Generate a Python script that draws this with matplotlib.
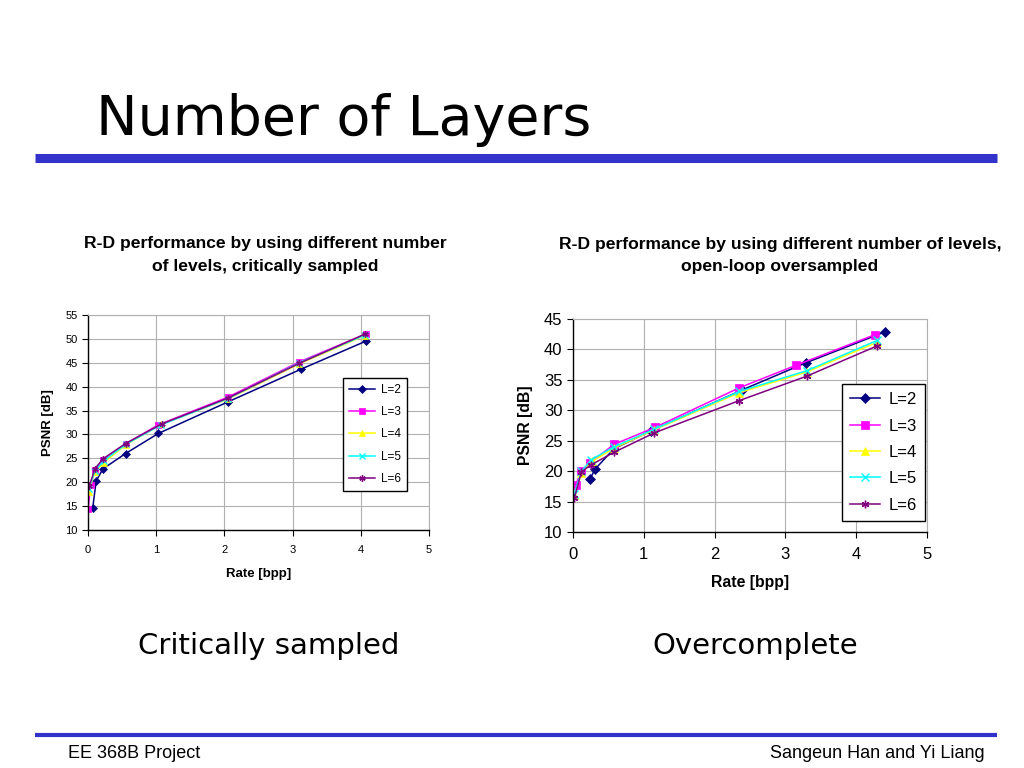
import matplotlib.pyplot as plt
from matplotlib.lines import Line2D

# ---- data ----
labels = ['L=2', 'L=3', 'L=4', 'L=5', 'L=6']

# critically sampled
crit_rate = {
    'L=2': [0.07, 0.12, 0.22, 0.55, 1.03, 2.05, 3.13, 4.07],
    'L=3': [0.00, 0.04, 0.10, 0.22, 0.55, 1.03, 2.05, 3.10, 4.07],
    'L=4': [0.01, 0.10, 0.23, 0.55, 1.07, 2.05, 3.10, 4.06],
    'L=5': [0.01, 0.10, 0.23, 0.55, 1.07, 2.05, 3.10, 4.06],
    'L=6': [0.02, 0.10, 0.22, 0.55, 1.08, 2.05, 3.10, 4.06],
}
crit_psnr = {
    'L=2': [14.7, 20.3, 22.8, 26.0, 30.2, 36.8, 43.7, 49.5],
    'L=3': [14.3, 19.4, 22.6, 24.6, 28.0, 32.0, 37.8, 45.2, 51.0],
    'L=4': [18.0, 22.2, 24.1, 27.8, 32.1, 37.4, 44.8, 50.7],
    'L=5': [18.5, 22.3, 24.5, 27.9, 32.0, 37.5, 45.0, 50.8],
    'L=6': [19.2, 22.8, 24.9, 28.1, 32.2, 37.6, 44.9, 51.0],
}

# open-loop oversampled
over_rate = {
    'L=2': [0.24, 0.31, 0.58, 1.10, 2.38, 3.29, 4.41],
    'L=3': [0.04, 0.12, 0.24, 0.58, 1.16, 2.35, 3.15, 4.26],
    'L=4': [0.02, 0.12, 0.27, 0.58, 1.15, 2.35, 3.30, 4.30],
    'L=5': [0.02, 0.12, 0.26, 0.58, 1.15, 2.35, 3.30, 4.30],
    'L=6': [0.02, 0.12, 0.25, 0.58, 1.15, 2.35, 3.30, 4.30],
}
over_psnr = {
    'L=2': [18.7, 20.3, 23.7, 26.6, 33.3, 37.8, 42.9],
    'L=3': [17.8, 20.1, 21.4, 24.4, 27.2, 33.7, 37.4, 42.4],
    'L=4': [16.0, 19.7, 21.6, 23.8, 26.8, 32.9, 36.3, 41.2],
    'L=5': [16.3, 20.0, 21.9, 24.0, 26.9, 33.1, 36.5, 41.5],
    'L=6': [15.6, 19.9, 21.0, 23.1, 26.3, 31.6, 35.6, 40.6],
}

colors = {'L=2': '#000080', 'L=3': '#FF00FF', 'L=4': '#FFFF00',
          'L=5': '#00FFFF', 'L=6': '#800080'}
markers = {'L=2': 'D', 'L=3': 's', 'L=4': '^', 'L=5': 'x', 'L=6': (6, 2, 0)}

fig = plt.figure(figsize=(10.24, 7.68), dpi=100)
fig.patch.set_facecolor('white')

slide_font = 'DejaVu Sans'
chart_font = 'Liberation Sans'

# slide title and bars
fig.text(96 / 1024, 1 - 135 / 768, 'Number of Layers', fontsize=40,
         family=slide_font, ha='left', va='baseline')
fig.add_artist(Line2D([35 / 1024, 997 / 1024], [1 - 157.5 / 768] * 2,
                      color='#3333CC', lw=6.5, solid_capstyle='butt'))
fig.add_artist(Line2D([35 / 1024, 997 / 1024], [1 - 735 / 768] * 2,
                      color='#3333CC', lw=3, solid_capstyle='butt'))
fig.text(68 / 1024, 1 - 758 / 768, 'EE 368B Project', fontsize=13,
         family=chart_font, ha='left', va='baseline')
fig.text(985 / 1024, 1 - 758 / 768, 'Sangeun Han and Yi Liang', fontsize=13,
         family=chart_font, ha='right', va='baseline')

fig.text(269 / 1024, 1 - 654 / 768, 'Critically sampled', fontsize=21,
         family=slide_font, ha='center', va='baseline')
fig.text(755 / 1024, 1 - 654 / 768, 'Overcomplete', fontsize=21,
         family=slide_font, ha='center', va='baseline')


def draw(ax, rate, psnr, ymax, tick_fs, lab_fs, leg_fs, ms, leg_anchor,
         spacing, hlen):
    for lab in labels:
        ax.plot(rate[lab], psnr[lab], color=colors[lab], marker=markers[lab],
                markersize=ms, lw=1.1, label=lab,
                markeredgewidth=1.0 if lab in ('L=5', 'L=6') else 0.5)
    ax.set_xlim(0, 5)
    ax.set_ylim(10, ymax)
    ax.set_xticks(range(0, 6))
    ax.set_yticks(range(10, ymax + 1, 5))
    ax.grid(True, color='#B0B0B0', lw=0.8)
    ax.set_axisbelow(True)
    for s in ('top', 'right'):
        ax.spines[s].set_color('#B0B0B0')
        ax.spines[s].set_linewidth(0.8)
    for s in ('left', 'bottom'):
        ax.spines[s].set_color('black')
        ax.spines[s].set_linewidth(1.0)
    ax.tick_params(labelsize=tick_fs, length=4, direction='out')
    ax.tick_params(axis='x', pad=7)
    for t in ax.get_xticklabels() + ax.get_yticklabels():
        t.set_family(chart_font)
    ax.set_xlabel('Rate [bpp]', fontsize=lab_fs, fontweight='bold',
                  family=chart_font, labelpad=9)
    ax.set_ylabel('PSNR [dB]', fontsize=lab_fs, fontweight='bold',
                  family=chart_font, labelpad=8)
    leg = ax.legend(loc='upper left', bbox_to_anchor=leg_anchor, fancybox=False,
                    edgecolor='black', framealpha=1,
                    prop={'family': chart_font, 'size': leg_fs},
                    labelspacing=spacing, handlelength=hlen, borderpad=0.5,
                    borderaxespad=0, handletextpad=0.5)
    leg.get_frame().set_linewidth(1.0)


ax1 = fig.add_axes([88 / 1024, 1 - 530 / 768, 341 / 1024, 215 / 768])
draw(ax1, crit_rate, crit_psnr, 55, 8, 9.5, 8.5, 4.5, (0.748, 0.707), 0.87, 2.2)

ax2 = fig.add_axes([573 / 1024, 1 - 532 / 768, 354 / 1024, 213 / 768])
draw(ax2, over_rate, over_psnr, 45, 12, 11.3, 12, 5.5, (0.76, 0.695), 0.68, 1.8)

fig.text(265 / 1024, 1 - 255 / 768,
         'R-D performance by using different number\nof levels, critically sampled',
         fontsize=12.6, fontweight='bold', family=chart_font, ha='center',
         va='center', linespacing=1.65)
fig.text(780 / 1024, 1 - 255.5 / 768,
         'R-D performance by using different number of levels,\nopen-loop oversampled',
         fontsize=12.6, fontweight='bold', family=chart_font, ha='center',
         va='center', linespacing=1.65)

fig.savefig('out.png', dpi=100, facecolor='white')
